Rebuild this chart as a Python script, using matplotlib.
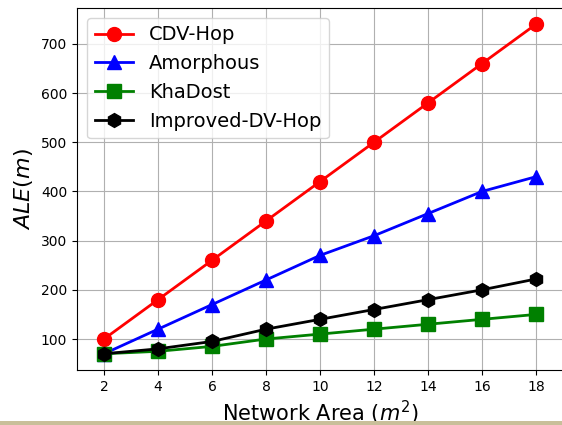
import matplotlib
matplotlib.use("Agg")
import matplotlib.pyplot as plt
from matplotlib.patches import Rectangle

x = [2, 4, 6, 8, 10, 12, 14, 16, 18]
cdv_hop = [100, 180, 260, 340, 420, 500, 580, 660, 740]
amorphous = [70, 120, 170, 220, 270, 310, 355, 400, 430]
khadost = [70, 75, 85, 100, 110, 120, 130, 140, 150]
improved = [70, 80, 95, 120, 140, 160, 180, 200, 222]

fig = plt.figure(figsize=(5.62, 4.25), dpi=100)
ax = fig.add_axes([77/562, 55/425, (563-77)/562, (370-8)/425])

ax.plot(x, cdv_hop, color='red', marker='o', markersize=10, linewidth=2, label='CDV-Hop')
ax.plot(x, amorphous, color='blue', marker='^', markersize=10, linewidth=2, label='Amorphous')
ax.plot(x, khadost, color='green', marker='s', markersize=10, linewidth=2, label='KhaDost')
ax.plot(x, improved, color='black', marker='h', markersize=10, linewidth=2, label='Improved-DV-Hop')

ax.set_xlim(1, 19)
ax.set_ylim(37, 773)
ax.set_xticks(x)
ax.set_yticks([100, 200, 300, 400, 500, 600, 700])
ax.tick_params(labelsize=10)
ax.grid(True, color='#b0b0b0', linewidth=0.8)
ax.set_axisbelow(True)
ax.set_xlabel(r'Network Area ($m^2$)', fontsize=15)
ax.set_ylabel(r'$ALE(m)$', fontsize=16)
ax.legend(loc='upper left', fontsize=14, framealpha=0.8)

fig.patches.append(Rectangle((0, 0), 1, 4/425, transform=fig.transFigure,
                             facecolor='#c9bf9a', edgecolor='none'))

fig.savefig('out.png', dpi=100)
